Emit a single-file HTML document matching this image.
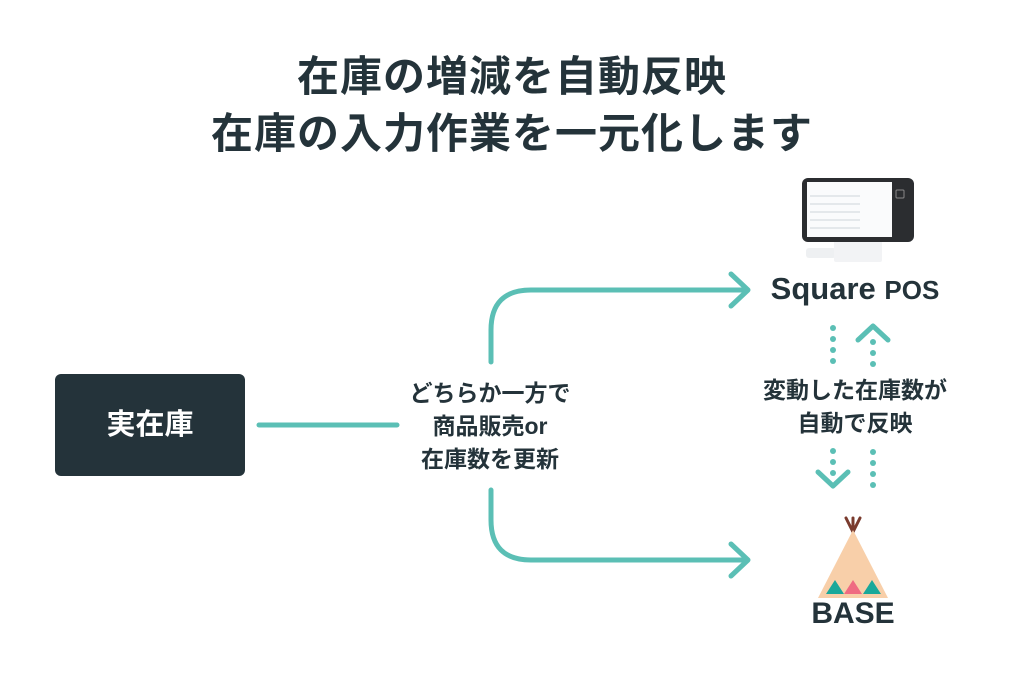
<!DOCTYPE html>
<html><head><meta charset="utf-8"><style>
body{margin:0;width:1024px;height:683px;background:#fff;overflow:hidden;position:relative;font-family:"Liberation Sans","Noto Sans CJK JP",sans-serif;color:#24333a}
.t{position:absolute;left:0;width:1024px;text-align:center;font-weight:bold;font-size:42px;letter-spacing:1px}
.a{position:absolute;text-align:center;font-weight:bold}
</style></head><body>
<div class="t" style="top:43px">在庫の増減を自動反映</div>
<div class="t" style="top:100px">在庫の入力作業を一元化します</div>
<div style="position:absolute;left:55px;top:374px;width:190px;height:102px;background:#24333a;border-radius:6px;color:#fff;font-weight:bold;font-size:29px;line-height:102px;text-align:center">実在庫</div>
<div class="a" style="left:380px;top:377px;width:220px;font-size:23px;line-height:33px">どちらか一方で<br>商品販売or<br>在庫数を更新</div>
<div class="a" style="left:740px;top:374px;width:230px;font-size:23px;line-height:33px">変動した在庫数が<br>自動で反映</div>
<div class="a" style="left:735px;top:271px;width:240px;font-size:31px">Square <span style="font-size:26px">POS</span></div>
<div class="a" style="left:760px;top:597px;width:186px;font-size:30px">BASE</div>
<svg width="1024" height="683" style="position:absolute;left:0;top:0">
<g fill="none" stroke="#5bbfb5" stroke-width="5" stroke-linecap="round" stroke-linejoin="round">
<line x1="259" y1="425" x2="397" y2="425"/>
<path d="M491 362 V330 Q491 290 531 290 H746"/>
<path d="M731 274 L748 290 L731 306"/>
<path d="M491 490 V520 Q491 560 531 560 H746"/>
<path d="M731 544 L748 560 L731 576"/>
<path d="M858 340 L873 326 L888 340"/>
<path d="M818 472 L833 486 L848 472"/>
</g>
<g fill="#5bbfb5">
<circle cx="833" cy="328" r="3"/><circle cx="833" cy="339" r="3"/><circle cx="833" cy="350" r="3"/><circle cx="833" cy="361" r="3"/>
<circle cx="873" cy="342" r="3"/><circle cx="873" cy="353" r="3"/><circle cx="873" cy="364" r="3"/>
<circle cx="833" cy="451" r="3"/><circle cx="833" cy="462" r="3"/><circle cx="833" cy="473" r="3"/>
<circle cx="873" cy="452" r="3"/><circle cx="873" cy="463" r="3"/><circle cx="873" cy="474" r="3"/><circle cx="873" cy="485" r="3"/>
</g>
<rect x="806" y="248" width="30" height="10" rx="3" fill="#eef0f2"/>
<rect x="834" y="240" width="48" height="22" rx="2" fill="#f2f3f5"/>
<rect x="802" y="178" width="112" height="64" rx="6" fill="#2b2d30"/>
<rect x="807" y="182" width="85" height="55" fill="#fafbfc"/>
<g stroke="#cfd4da" stroke-width="1">
<line x1="810" y1="196" x2="860" y2="196"/><line x1="810" y1="204" x2="860" y2="204"/><line x1="810" y1="212" x2="860" y2="212"/><line x1="810" y1="220" x2="860" y2="220"/><line x1="810" y1="228" x2="860" y2="228"/>
</g>
<rect x="896" y="190" width="8" height="8" rx="1" fill="none" stroke="#888" stroke-width="1"/>
<g stroke="#7a3b2e" stroke-width="3" fill="none" stroke-linecap="round"><path d="M853 532 L846 518 M853 532 L860 518 M853 532 V518"/></g>
<polygon points="853,530 818,598 888,598" fill="#f8cfa9"/>
<polygon points="835,580 826,594 844,594" fill="#1aa89a"/>
<polygon points="853,580 844,594 862,594" fill="#ef6b82"/>
<polygon points="872,580 863,594 881,594" fill="#1aa89a"/>
</svg>
</body></html>
